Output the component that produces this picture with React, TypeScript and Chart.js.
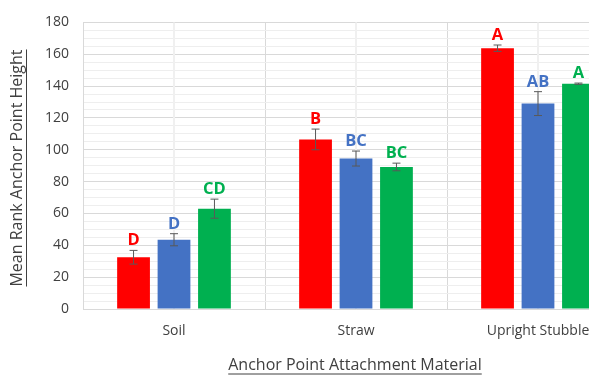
import React, { useEffect, useRef } from "react";
import { Chart, registerables } from "chart.js";

Chart.register(...registerables);

const categories = ["Soil", "Straw", "Upright Stubble"];
const seriesNames = ["Group 1", "Group 2", "Group 3"];
const redValues = [32.5, 106.5, 163.8];
const blueValues = [43.5, 94.5, 129];
const greenValues = [63, 89.2, 141.5];
const redErrors = [4.3, 6.5, 2.0];
const blueErrors = [3.8, 4.7, 7.5];
const greenErrors = [6.0, 2.4, 0.4];
const redLetters = ["D", "B", "A"];
const blueLetters = ["D", "BC", "AB"];
const greenLetters = ["CD", "BC", "A"];
const seriesColors = ["#FF0000", "#4472C4", "#00B050"];
const yTitle = "Mean Rank Anchor Point Height";
const xTitle = "Anchor Point Attachment Material";

const FONT = "'Open Sans', 'DejaVu Sans', sans-serif";

export default function App() {
  const ref = useRef<HTMLCanvasElement | null>(null);

  useEffect(() => {
    if (!ref.current) return;
    const values = [redValues, blueValues, greenValues];
    const errors = [redErrors, blueErrors, greenErrors];
    const letters = [redLetters, blueLetters, greenLetters];

    const overlayPlugin = {
      id: "overlay",
      beforeDatasetsDraw(chart: any) {
        const { ctx, chartArea, scales } = chart;
        const xs = scales.x;
        ctx.save();
        ctx.strokeStyle = "#f0f0f0";
        ctx.lineWidth = 2;
        categories.forEach((_, i) => {
          const x = xs.getPixelForValue(i);
          ctx.beginPath();
          ctx.moveTo(x, chartArea.top);
          ctx.lineTo(x, chartArea.bottom);
          ctx.stroke();
        });
        ctx.restore();
      },
      afterDatasetsDraw(chart: any) {
        const { ctx, scales } = chart;
        const ys = scales.y;
        ctx.save();
        chart.data.datasets.forEach((ds: any, di: number) => {
          const meta = chart.getDatasetMeta(di);
          meta.data.forEach((bar: any, i: number) => {
            const v = values[di][i];
            const e = errors[di][i];
            const x = bar.x;
            const yTop = ys.getPixelForValue(v + e);
            const yBot = ys.getPixelForValue(v - e);
            ctx.strokeStyle = "#595959";
            ctx.lineWidth = 1;
            ctx.beginPath();
            ctx.moveTo(x, yTop);
            ctx.lineTo(x, yBot);
            ctx.moveTo(x - 4, yTop);
            ctx.lineTo(x + 4, yTop);
            ctx.moveTo(x - 4, yBot);
            ctx.lineTo(x + 4, yBot);
            ctx.stroke();
            ctx.fillStyle = seriesColors[di];
            ctx.font = `bold 16.5px ${FONT}`;
            ctx.textAlign = "center";
            ctx.textBaseline = "alphabetic";
            ctx.fillText(letters[di][i], x, yTop - 5);
          });
        });
        ctx.restore();
      },
      afterDraw(chart: any) {
        const { ctx, chartArea } = chart;
        ctx.save();
        ctx.fillStyle = "#404040";
        ctx.strokeStyle = "#404040";
        ctx.lineWidth = 1;
        ctx.font = `16px ${FONT}`;
        ctx.textAlign = "center";
        ctx.textBaseline = "middle";
        // x title
        const cx = 355;
        const cy = 365;
        ctx.fillText(xTitle, cx, cy);
        const wx = ctx.measureText(xTitle).width;
        ctx.beginPath();
        ctx.moveTo(cx - wx / 2, cy + 9);
        ctx.lineTo(cx + wx / 2, cy + 9);
        ctx.stroke();
        // y title
        ctx.translate(17.5, 168);
        ctx.rotate(-Math.PI / 2);
        ctx.fillText(yTitle, 0, 0);
        const wy = ctx.measureText(yTitle).width;
        ctx.beginPath();
        ctx.moveTo(-wy / 2, 9);
        ctx.lineTo(wy / 2, 9);
        ctx.stroke();
        ctx.restore();
      },
    };

    const chart = new Chart(ref.current, {
      type: "bar",
      data: {
        labels: categories,
        datasets: values.map((vals, di) => ({
          label: seriesNames[di],
          data: vals,
          backgroundColor: seriesColors[di],
          borderWidth: 0,
          categoryPercentage: 0.667,
          barPercentage: 0.81,
        })),
      },
      options: {
        animation: false,
        responsive: false,
        maintainAspectRatio: false,
        layout: { padding: { top: 18, right: 11, left: 0, bottom: 0 } },
        plugins: {
          legend: { display: false },
          tooltip: { enabled: false },
        },
        scales: {
          x: {
            afterFit(scale: any) {
              scale.height = 67;
            },
            grid: { color: "#d9d9d9", drawTicks: false, offset: true },
            border: { color: "#d9d9d9" },
            ticks: {
              color: "#404040",
              font: { family: FONT, size: 14 },
              padding: 14,
            },
          },
          y: {
            min: 0,
            max: 180,
            afterFit(scale: any) {
              scale.width = 83;
            },
            grid: {
              drawTicks: false,
              color: (c: any) =>
                c.tick && c.tick.value % 20 === 0 ? "#d9d9d9" : "#eeeeee",
            },
            border: { color: "#d9d9d9" },
            ticks: {
              stepSize: 5,
              autoSkip: false,
              color: "#404040",
              font: { family: FONT, size: 14 },
              padding: 14,
              callback: (v: any) => (Number(v) % 20 === 0 ? String(v) : ""),
            },
          },
        },
      },
      plugins: [overlayPlugin],
    });
    return () => chart.destroy();
  }, []);

  return (
    <div
      style={{
        position: "fixed",
        left: 0,
        top: 0,
        width: 589,
        height: 376,
        overflow: "hidden",
        background: "#ffffff",
      }}
    >
      <canvas ref={ref} width={640} height={376} style={{ display: "block" }} />
    </div>
  );
}
